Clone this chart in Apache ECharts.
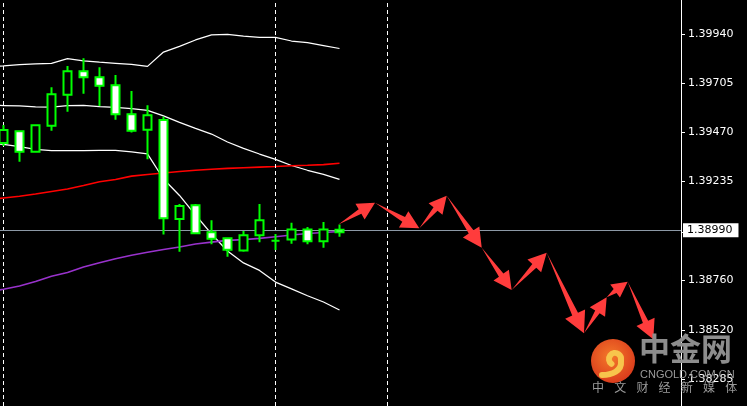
<!DOCTYPE html>
<html><head><meta charset="utf-8">
<style>html,body{margin:0;padding:0;background:#000;}#c{width:747px;height:406px;}</style>
<script src="https://cdn.jsdelivr.net/npm/echarts@6/dist/echarts.min.js"></script>
</head><body><div id="c"></div>
<script>
// ---- data ----
const opens  = [1.39419,1.39475,1.39377,1.39502,1.39651,1.39764,1.39735,1.39696,1.39557,1.39483,1.39530,1.39054,1.39120,1.38990,1.38961,1.38902,1.38976,1.38950,1.38956,1.39004,1.38947,1.39002];
const closes = [1.39481,1.39377,1.39504,1.39653,1.39764,1.39735,1.39694,1.39557,1.39478,1.39552,1.39057,1.39116,1.38985,1.38959,1.38906,1.38976,1.39048,1.38950,1.39004,1.38947,1.39004,1.38990];
const lows   = [1.39405,1.39329,1.39376,1.39478,1.39569,1.39656,1.39597,1.39531,1.39469,1.39341,1.38979,1.38897,1.38984,1.38932,1.38873,1.38897,1.38942,1.38905,1.38935,1.38932,1.38916,1.38969];
const highs  = [1.39505,1.39476,1.39505,1.39687,1.39789,1.39826,1.39783,1.39746,1.39669,1.39600,1.39545,1.39126,1.39126,1.39048,1.38963,1.38996,1.39126,1.38982,1.39036,1.39015,1.39040,1.39028];

// indicator lines start one bar before the first visible candle (bar -1)
const lineStartBar = -1;
const bbUpper  = [1.39788,1.39789,1.39796,1.39799,1.39802,1.39824,1.39814,1.39807,1.39802,1.39797,1.39787,1.39856,1.39883,1.39914,1.39938,1.39941,1.39933,1.39927,1.39926,1.39909,1.39901,1.39887,1.39873];
const bbMiddle = [1.39600,1.39599,1.39597,1.39592,1.39591,1.39598,1.39600,1.39594,1.39590,1.39584,1.39576,1.39549,1.39518,1.39489,1.39462,1.39424,1.39393,1.39366,1.39340,1.39311,1.39288,1.39268,1.39244];
const bbLower  = [1.39417,1.39412,1.39402,1.39388,1.39382,1.39382,1.39382,1.39384,1.39384,1.39376,1.39367,1.39246,1.39167,1.39073,1.38982,1.38900,1.38843,1.38807,1.38751,1.38718,1.38685,1.38655,1.38617];
const maRed    = [1.39145,1.39155,1.39163,1.39174,1.39186,1.39198,1.39215,1.39233,1.39244,1.39260,1.39268,1.39275,1.39282,1.39288,1.39293,1.39297,1.39300,1.39303,1.39306,1.39310,1.39312,1.39315,1.39322];
const maPurple = [1.38703,1.38716,1.38732,1.38754,1.38779,1.38797,1.38823,1.38844,1.38863,1.38880,1.38894,1.38907,1.38919,1.38934,1.38943,1.38951,1.38955,1.38961,1.38969,1.38977,1.38984,1.38989,1.38994];

const separatorBars = [0, 17, 24];
const bidPrice = 1.38990;
const priceTicks = [1.39940, 1.39705, 1.39470, 1.39235, 1.38990, 1.38760, 1.38520, 1.38285];

// forecast arrow waypoints (bar position, price)
const arrowBars   = [20.93, 23.22, 25.99, 27.70, 29.89, 31.76, 33.95, 36.28, 37.70, 39.01, 40.61];
const arrowPrices = [1.39028,1.39132,1.39009,1.39166,1.38916,1.38713,1.38892,1.38505,1.38678,1.38753,1.38476];

// ---- build ----
const candleData = opens.map((o, i) => [i, o, closes[i], lows[i], highs[i]]);
const toLine = arr => arr.map((v, i) => [lineStartBar + i, v]);
const arrowSegs = [];
for (let i = 0; i < arrowBars.length - 1; i++) {
  arrowSegs.push([arrowBars[i], arrowPrices[i], arrowBars[i + 1], arrowPrices[i + 1]]);
}

const chart = echarts.init(document.getElementById('c'), null, {renderer: 'canvas'});
const font = '"DejaVu Sans", sans-serif';

const lineSeries = (data, color, width, z) => ({
  type: 'line', data: toLine(data), showSymbol: false, symbol: 'none', smooth: false,
  lineStyle: {color, width}, z, silent: true, animation: false
});

function renderArrow(params, api) {
  const a = api.coord([api.value(0), api.value(1)]);
  const b = api.coord([api.value(2), api.value(3)]);
  const dx = b[0] - a[0], dy = b[1] - a[1];
  const L = Math.hypot(dx, dy);
  const ux = dx / L, uy = dy / L, nx = -uy, ny = ux;
  const hl = Math.min(14 + 0.08 * L, L * 0.6);
  const hw = hl * 0.52, sw = hl * 0.15;
  const bx = b[0] - ux * hl, by = b[1] - uy * hl;
  const pts = [
    [a[0], a[1]],
    [bx + nx * sw, by + ny * sw],
    [bx + nx * hw, by + ny * hw],
    [b[0], b[1]],
    [bx - nx * hw, by - ny * hw],
    [bx - nx * sw, by - ny * sw]
  ];
  return {type: 'polygon', shape: {points: pts}, style: {fill: '#ff3c3c', stroke: null}};
}

const wmChars = '中文财经新媒体'.split('');
const graphics = [
  {type: 'circle', z: 100, shape: {cx: 613, cy: 361, r: 22},
   style: {fill: new echarts.graphic.RadialGradient(0.45, 0.4, 0.7, [
     {offset: 0, color: '#f47a2a'}, {offset: 1, color: '#d7321a'}])}},
  {type: 'arc', z: 101, shape: {cx: 615, cy: 359, r: 6, startAngle: Math.PI * 0.7, endAngle: Math.PI * 2.05, clockwise: true},
   style: {fill: null, stroke: '#f7c54c', lineWidth: 6, lineCap: 'round'}},
  {type: 'bezierCurve', z: 101, shape: {x1: 621, y1: 361, cpx1: 622, cpy1: 371, cpx2: 612, cpy2: 375, x2: 602, y2: 375},
   style: {fill: null, stroke: '#f7c54c', lineWidth: 6, lineCap: 'round'}},
  {type: 'text', z: 100, x: 639, y: 333,
   style: {text: '中金网', font: 'bold 31px "Noto Sans CJK SC"', fill: '#8d8d8d'}},
  {type: 'text', z: 100, x: 640, y: 369,
   style: {text: 'CNGOLD.COM.CN', font: '11px "Liberation Sans"', fill: '#9a9a9a'}}
].concat(wmChars.map((ch, i) => ({
  type: 'text', z: 100, x: 598 + i * 22.2, y: 381,
  style: {text: ch, font: '12px "Noto Sans CJK SC"', fill: '#9a9a9a', textAlign: 'center'}
})));

chart.setOption({
  backgroundColor: '#000',
  animation: false,
  grid: {left: 0, right: 66, top: 0, bottom: 0},
  xAxis: {
    type: 'value', min: -3.5 / 16, max: -3.5 / 16 + 681 / 16,
    show: false, splitLine: {show: false}
  },
  yAxis: {
    type: 'value', position: 'right',
    min: 1.401060 - 406 * 0.000048041, max: 1.401060,
    splitLine: {show: false},
    axisLine: {show: true, onZero: false, lineStyle: {color: '#ffffff', width: 1}},
    axisTick: {show: true, length: 4, lineStyle: {color: '#ffffff'}, customValues: priceTicks},
    axisLabel: {
      show: true, color: '#ffffff', fontFamily: font, fontSize: 11, margin: 7,
      customValues: priceTicks.filter(v => v !== bidPrice),
      formatter: v => v.toFixed(5)
    }
  },
  graphic: {elements: graphics},
  series: [
    {
      type: 'line', data: [], z: 1, silent: true,
      markLine: {
        silent: true, animation: false, symbol: ['none', 'none'],
        label: {show: false},
        lineStyle: {color: '#ffffff', type: [4, 3], width: 1},
        data: separatorBars.map(b => ({xAxis: b}))
      }
    },
    {
      type: 'line', data: [], z: 1, silent: true,
      markLine: {
        silent: true, animation: false, symbol: ['none', 'none'],
        lineStyle: {color: '#8c99a6', type: 'solid', width: 1},
        label: {
          show: true, position: 'end', distance: 2, formatter: bidPrice.toFixed(5),
          backgroundColor: '#ffffff', color: '#000000', fontFamily: font, fontSize: 11,
          lineHeight: 11, padding: [2, 6, 1, 4]
        },
        data: [{yAxis: bidPrice}]
      }
    },
    lineSeries(bbUpper, '#ffffff', 1.25, 2),
    lineSeries(bbMiddle, '#ffffff', 1.25, 2),
    lineSeries(bbLower, '#ffffff', 1.25, 2),
    lineSeries(maRed, '#ff0000', 1.6, 2),
    lineSeries(maPurple, '#9932cc', 1.6, 2),
    {
      type: 'candlestick', data: candleData, z: 5, barWidth: 9,
      encode: {x: 0, y: [1, 2, 3, 4]},
      itemStyle: {color: '#000000', color0: '#ffffff', borderColor: '#00ff00', borderColor0: '#00ff00', borderWidth: 2}
    },
    {
      type: 'custom', data: arrowSegs, z: 6, renderItem: renderArrow,
      encode: {x: [0, 2], y: [1, 3]}, silent: true
    }
  ]
});
</script>
</body></html>
